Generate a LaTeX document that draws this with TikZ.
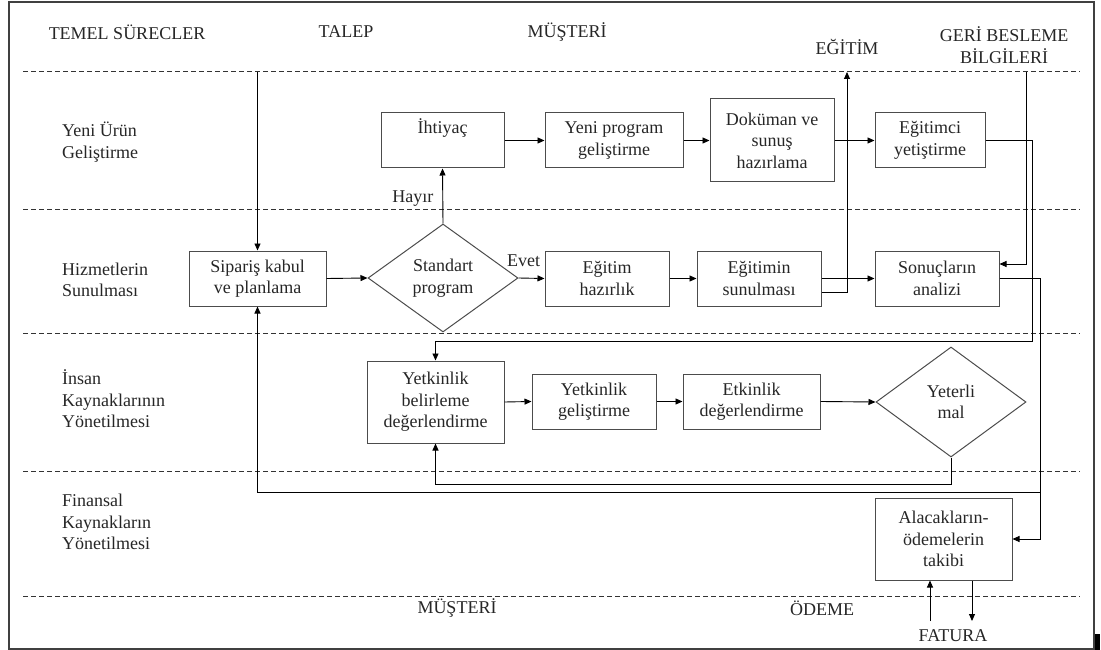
\documentclass[tikz,border=0pt]{standalone}
\usepackage{fontspec}
\setmainfont{Liberation Serif}
\usetikzlibrary{shapes.geometric,arrows.meta}

\begin{document}
\begin{tikzpicture}[x=1pt,y=-1pt,
  txt/.style={font=\fontsize{18}{21.5}\selectfont, text=black!85, align=center, inner sep=0pt},
  lane/.style={txt, align=left, anchor=west},
  box/.style={txt, draw=black!70, line width=1pt, minimum width=#1},
  box/.default=124pt,
  decision/.style={txt, diamond, draw=black!70, line width=1pt, inner sep=0pt},
  sep/.style={draw=black!80, line width=1pt, dash pattern=on 5pt off 3pt},
  arr/.style={draw=black, line width=0.9pt, -{Triangle[length=7pt,width=6pt]}},
  wire/.style={draw=black, line width=0.9pt}
]
\useasboundingbox (0,0) rectangle (1101,650);

% outer frame
\draw[black!75, line width=1.3pt] (9,2) rectangle (1094,649);
\fill[black] (1095,634) rectangle (1100,650);

% lane separators
\foreach \yy in {72,209,333,471,596}
  \draw[sep] (23,\yy) -- (1080,\yy);

% column headings
\node[txt] (hTemel) at (127,32) {TEMEL SÜRECLER};
\node[txt] (hTalep) at (346,32) {TALEP};
\node[txt] (hMust)  at (567,32) {MÜŞTERİ};
\node[txt] (hEgit)  at (847,47) {EĞİTİM};
\node[txt] (hGeri)  at (1004,45) {GERİ BESLEME\\BİLGİLERİ};

% lane names
\node[lane] (lYeni) at (62,142) {Yeni Ürün\\Geliştirme};
\node[lane] (lHizm) at (62,280) {Hizmetlerin\\Sunulması};
\node[lane] (lInsan) at (62,399) {İnsan\\Kaynaklarının\\Yönetilmesi};
\node[lane] (lFin) at (62,522) {Finansal\\Kaynakların\\Yönetilmesi};

% bottom labels
\node[txt] (bMust) at (457,608) {MÜŞTERİ};
\node[txt] (bOdeme) at (822,608) {ÖDEME};
\node[txt] (bFatura) at (953,636) {FATURA};

% process boxes
\node[box=123pt, minimum height=55pt] (iht) at (442.5,140.5) {İhtiyaç\\[8pt]};
\node[box=138pt, minimum height=55pt] (yeni) at (614,140.5) {Yeni program\\geliştirme};
\node[box=124pt, minimum height=83pt] (dok) at (772,140.5) {Doküman ve\\sunuş\\hazırlama};
\node[box=110pt, minimum height=55pt] (egtc) at (930,140.5) {Eğitimci\\yetiştirme};

\node[box=137pt, minimum height=55pt] (sip) at (257.5,278.5) {Sipariş kabul\\ve planlama};
\node[decision, minimum width=150pt, minimum height=108pt] (std) at (443,278) {Standart\\program};
\node[box=124pt, minimum height=55pt] (ehaz) at (607,278.5) {Eğitim\\hazırlık};
\node[box=124pt, minimum height=55pt] (esun) at (759,278.5) {Eğitimin\\sunulması};
\node[box=124pt, minimum height=55pt] (son) at (937,278.5) {Sonuçların\\analizi};

\node[box=137pt, minimum height=82pt] (ybel) at (435.5,402) {Yetkinlik\\belirleme\\değerlendirme};
\node[box=124pt, minimum height=55pt] (ygel) at (594,401.5) {Yetkinlik\\geliştirme};
\node[box=137pt, minimum height=55pt] (etk) at (751.5,401.5) {Etkinlik\\değerlendirme};
\node[decision, minimum width=150pt, minimum height=110pt] (yet) at (951,402) {Yeterli\\mal};

\node[box=137pt, minimum height=82pt] (alc) at (943.5,539) {Alacakların-\\ödemelerin\\takibi};

% free ends and bend points
\coordinate (talepTop) at (257.5,72);
\coordinate (egitimTop) at (847,72);
\coordinate (geriTop) at (1026,72);
\coordinate (egtcBend) at (1032,341);
\coordinate (sonBend) at (1040,492);
\coordinate (fatIn) at (930,621);
\coordinate (fatOut) at (972,621);

% flow in the service lane
\draw[arr] (talepTop) -- (sip.north);
\draw[arr] (sip.east) -- (std.west);
\draw[arr] (std.north) -- (iht.south) node[txt, pos=0.45, left=9pt] (hayir) {Hayır};
\draw[arr] (std.east) -- (ehaz.west) node[txt, pos=0.2, above=11pt] (evet) {Evet};
\draw[arr] (ehaz.east) -- (esun.west);
\draw[arr] (esun.east) -- (son.west);

% new product lane
\draw[arr] (iht.east) -- (yeni.west);
\draw[arr] (yeni.east) -- (dok.west);
\draw[arr] (dok.east) -- (egtc.west);

% training output and feedback
\draw[arr] ([yshift=-13.5pt]esun.east) -| (egitimTop);
\draw[arr] (geriTop) |- ([yshift=14.5pt]son.east);
\draw[arr] (egtc.east) -| (egtcBend) -| (ybel.north);

% results to finance and back to order planning
\draw[arr] (son.east) -| (sonBend |- alc.east) -- (alc.east);
\draw[arr] (son.east) -| (sonBend) -| (sip.south);

% human resources lane
\draw[arr] (ybel.east) -- (ygel.west);
\draw[arr] (ygel.east) -- (etk.west);
\draw[arr] (etk.east) -- (yet.west);
\draw[arr] (yet.south) -- ++(0,27) -| (ybel.south);

% invoice and payment
\draw[arr] (fatIn) -- (fatIn |- alc.south);
\draw[arr] (fatOut |- alc.south) -- (fatOut);
\end{tikzpicture}
\end{document}
